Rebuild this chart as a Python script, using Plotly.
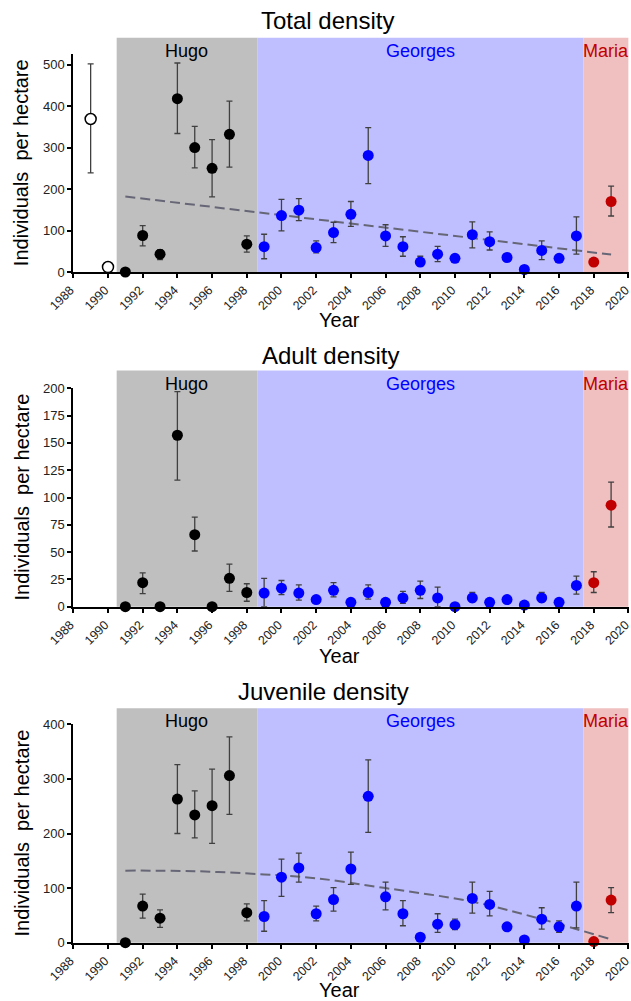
import plotly.graph_objects as go

FONT = "Liberation Sans, Arial, sans-serif"
W, H = 631, 1001

# ---------------- data ----------------
pre_years = [1989, 1990]
hugo_years = [1991, 1992, 1993, 1994, 1995, 1996, 1997, 1998]
georges_years = [1999, 2000, 2001, 2002, 2003, 2004, 2005, 2006, 2007, 2008,
                 2009, 2010, 2011, 2012, 2013, 2014, 2015, 2016, 2017]
maria_years = [2018, 2019]

# Total density
total_pre = [369, 12]
total_pre_hi = [502, 12]
total_pre_lo = [239, 12]
total_hugo = [0, 88, 43, 418, 300, 250, 332, 67]
total_hugo_hi = [0, 112, 54, 504, 351, 319, 412, 87]
total_hugo_lo = [0, 63, 30, 334, 251, 181, 253, 48]
total_georges = [61, 136, 149, 59, 95, 139, 281, 87, 61, 24, 43, 33, 90, 73, 35, 6, 52, 33, 87]
total_georges_hi = [91, 175, 177, 75, 120, 170, 348, 114, 85, 38, 62, 38, 121, 97, 40, 8, 75, 40, 133]
total_georges_lo = [32, 99, 124, 46, 71, 110, 213, 62, 38, 15, 25, 28, 58, 53, 30, 4, 30, 26, 43]
total_maria = [24, 170]
total_maria_hi = [30, 207]
total_maria_lo = [18, 135]
trend_total_years = [1991, 2019]
trend_total_vals = [182, 42]

# Adult density
adult_hugo = [0, 22, 0, 157, 66, 0, 26, 13]
adult_hugo_hi = [0, 31, 0, 197, 82, 0, 39, 21]
adult_hugo_lo = [0, 12, 0, 116, 51, 0, 14, 5]
adult_georges = [12.5, 17, 12.5, 6.5, 15, 4, 13, 4, 8, 15, 8, 0, 8, 4, 6.5, 1.5, 8, 4, 19.5]
adult_georges_hi = [26, 24, 20, 8, 22, 5, 20, 5, 14, 23.5, 18, 0, 13, 5, 8, 2, 13, 5, 28]
adult_georges_lo = [0, 11, 6, 5, 9, 3, 7, 3, 3, 7.5, 0, 0, 4.5, 3, 5, 1, 4.5, 3, 11.5]
adult_maria = [22, 93]
adult_maria_hi = [32, 114]
adult_maria_lo = [13, 73]

# Juvenile density
juv_hugo = [0, 67, 45, 263, 234, 251, 306, 55]
juv_hugo_hi = [0, 89, 60, 326, 278, 318, 377, 71]
juv_hugo_lo = [0, 45, 28, 200, 192, 182, 235, 40]
juv_georges = [48, 120, 137, 53, 79, 135, 268, 84, 53, 10, 34, 33, 81, 70, 29, 5, 43, 29, 67]
juv_georges_hi = [77, 153, 164, 67, 101, 166, 335, 111, 77, 14, 53, 43, 111, 94, 33, 7, 64, 40, 111]
juv_georges_lo = [21, 85, 111, 40, 58, 107, 202, 60, 31, 6, 19, 24, 54, 49, 25, 3, 25, 19, 27]
juv_maria = [2, 78]
juv_maria_hi = [4, 101]
juv_maria_lo = [0, 55]
trend_juv_years = [1991, 1995, 1999, 2002, 2006, 2011, 2015, 2019]
trend_juv_vals = [132, 131, 125, 118, 100, 75, 43, 6]

# hurricane periods
region_names = ["Hugo", "Georges", "Maria"]
region_start = [1990.5, 1998.6, 2017.4]
region_end = [1998.6, 2017.4, 2020]
region_fill = ["#bfbfbf", "#bfbfff", "#f0bfbf"]
region_text = ["#000000", "#0000ff", "#c00000"]

panel_titles = ["Total density", "Adult density", "Juvenile density"]
x_ticks = list(range(1988, 2021, 2))

# ---------------- layout geometry (pixels) ----------------
plot_left, plot_right = 73.3, 628.8
panels = [
    dict(bottom=272.0, top=54.3, yrange=[0, 525], dtick=100, shade_top=1.076,
         title_y=21, title_x=327.5, year_y=320),
    dict(bottom=606.7, top=388.3, yrange=[0, 200], dtick=25, shade_top=1.081,
         title_y=355, title_x=330.5, year_y=656),
    dict(bottom=942.7, top=724.3, yrange=[0, 400], dtick=100, shade_top=1.073,
         title_y=691, title_x=324, year_y=990),
]

series = [
    dict(groups=[(hugo_years, total_hugo, total_hugo_hi, total_hugo_lo, "#000000"),
                 (georges_years, total_georges, total_georges_hi, total_georges_lo, "#0000ff"),
                 (maria_years, total_maria, total_maria_hi, total_maria_lo, "#c00000")],
         pre=(pre_years, total_pre, total_pre_hi, total_pre_lo),
         trend=(trend_total_years, trend_total_vals)),
    dict(groups=[(hugo_years, adult_hugo, adult_hugo_hi, adult_hugo_lo, "#000000"),
                 (georges_years, adult_georges, adult_georges_hi, adult_georges_lo, "#0000ff"),
                 (maria_years, adult_maria, adult_maria_hi, adult_maria_lo, "#c00000")],
         pre=None, trend=None),
    dict(groups=[(hugo_years, juv_hugo, juv_hugo_hi, juv_hugo_lo, "#000000"),
                 (georges_years, juv_georges, juv_georges_hi, juv_georges_lo, "#0000ff"),
                 (maria_years, juv_maria, juv_maria_hi, juv_maria_lo, "#c00000")],
         pre=None, trend=(trend_juv_years, trend_juv_vals)),
]

fig = go.Figure()
shapes = []
annotations = []
err_color = "#404040"


def err(vals, hi, lo):
    return dict(type="data", symmetric=False,
                array=[h - v for v, h in zip(vals, hi)],
                arrayminus=[v - l for v, l in zip(vals, lo)],
                color=err_color, thickness=1.3, width=3)


for i, (p, s) in enumerate(zip(panels, series)):
    n = "" if i == 0 else str(i + 1)
    xa, ya = "x" + n, "y" + n
    # traces
    if s["trend"] is not None:
        fig.add_trace(go.Scatter(x=s["trend"][0], y=s["trend"][1], mode="lines",
                                 line=dict(color="#666677", width=2, dash="10px,5px",
                                           shape="spline"),
                                 xaxis=xa, yaxis=ya, showlegend=False, hoverinfo="skip"))
    if s["pre"] is not None:
        yrs, v, hi, lo = s["pre"]
        fig.add_trace(go.Scatter(x=yrs, y=v, mode="markers", error_y=err(v, hi, lo),
                                 marker=dict(size=11, color="white",
                                             line=dict(color="black", width=1.5)),
                                 xaxis=xa, yaxis=ya, showlegend=False, cliponaxis=False))
    for yrs, v, hi, lo, col in s["groups"]:
        fig.add_trace(go.Scatter(x=yrs, y=v, mode="markers", error_y=err(v, hi, lo),
                                 marker=dict(size=11, color=col, line=dict(width=0)),
                                 xaxis=xa, yaxis=ya, showlegend=False, cliponaxis=False))
    # shading + labels
    for name, x0, x1, fc, tc in zip(region_names, region_start, region_end,
                                    region_fill, region_text):
        shapes.append(dict(type="rect", xref=xa, yref=ya + " domain", x0=x0, x1=x1,
                           y0=0, y1=p["shade_top"], fillcolor=fc, line=dict(width=0),
                           layer="below"))
        annotations.append(dict(text=name, xref=xa, yref=ya + " domain",
                                x=(x0 + x1) / 2, y=p["shade_top"], yanchor="top",
                                xanchor="center", showarrow=False, yshift=-1,
                                font=dict(family=FONT, size=18, color=tc)))
    # titles
    annotations.append(dict(text=panel_titles[i], xref="paper", yref="paper",
                            x=p["title_x"] / W, y=1 - p["title_y"] / H,
                            xanchor="center", yanchor="middle", showarrow=False,
                            font=dict(family=FONT, size=24, color="black")))
    annotations.append(dict(text="Individuals\u00a0 per hectare", xref="paper", yref="paper",
                            x=21 / W, y=1 - (p["top"] + p["bottom"]) / 2 / H,
                            xanchor="center", yanchor="middle", textangle=-90,
                            showarrow=False,
                            font=dict(family=FONT, size=20, color="black")))
    annotations.append(dict(text="Year", xref="paper", yref="paper",
                            x=339 / W, y=1 - p["year_y"] / H,
                            xanchor="center", yanchor="middle", showarrow=False,
                            font=dict(family=FONT, size=20, color="black")))
    axis_common = dict(showline=True, linecolor="black", linewidth=2, ticks="outside",
                       ticklen=4, tickcolor="black", tickwidth=1.5, showgrid=False,
                       zeroline=False, automargin=False, ticklabeloverflow="allow")
    fig.layout["xaxis" + n] = dict(domain=[plot_left / W, plot_right / W], anchor=ya,
                                   range=[1988, 2020.02], tickmode="array", tickvals=x_ticks,
                                   ticktext=[str(t) for t in x_ticks], tickangle=-45,
                                   ticklabelshift=-3,
                                   tickfont=dict(family=FONT, size=12.5, color="#222222"),
                                   **axis_common)
    fig.layout["yaxis" + n] = dict(domain=[1 - p["bottom"] / H, 1 - p["top"] / H],
                                   anchor=xa, range=p["yrange"], dtick=p["dtick"],
                                   tick0=0,
                                   tickfont=dict(family=FONT, size=13, color="#222222"),
                                   **axis_common)

fig.update_layout(width=W, height=H, margin=dict(l=0, r=0, t=0, b=0, autoexpand=False),
                  paper_bgcolor="white", plot_bgcolor="rgba(0,0,0,0)",
                  shapes=shapes, annotations=annotations, showlegend=False,
                  font=dict(family=FONT))
fig.write_html("out.html", config={"displayModeBar": False},
               post_script="document.body.style.margin='0';"
                           "document.body.style.overflow='hidden';")
